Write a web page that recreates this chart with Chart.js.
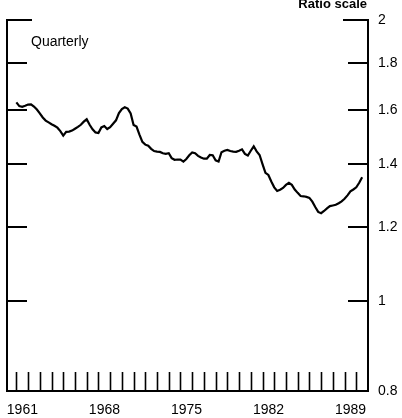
<!DOCTYPE html>
<html>
<head>
<meta charset="utf-8">
<script src="https://cdn.jsdelivr.net/npm/chart.js@4"></script>
<style>
  html, body { margin: 0; padding: 0; background: #fff; }
  canvas { display: block; }
</style>
</head>
<body>
<canvas id="ratioChart" width="402" height="418"></canvas>
<script>
const ink = '#000';
const fontFamily = '"Liberation Sans", Arial, Helvetica, sans-serif';

// quarterly observations, 1961:Q1 onward
const firstYear = 1961;
const ratio = [
    1.632, 1.617, 1.614, 1.618, 1.623, 1.624, 1.615, 1.603, 1.588, 1.572,
    1.560, 1.553, 1.546, 1.540, 1.533, 1.520, 1.503, 1.517, 1.518, 1.522,
    1.529, 1.536, 1.544, 1.556, 1.565, 1.544, 1.527, 1.515, 1.513, 1.534,
    1.539, 1.528, 1.535, 1.548, 1.561, 1.589, 1.605, 1.612, 1.607, 1.588,
    1.543, 1.537, 1.507, 1.480, 1.470, 1.466, 1.455, 1.447, 1.445, 1.444,
    1.439, 1.437, 1.439, 1.422, 1.416, 1.417, 1.417, 1.410, 1.419, 1.432,
    1.442, 1.439, 1.430, 1.424, 1.420, 1.420, 1.433, 1.432, 1.414, 1.410,
    1.443, 1.448, 1.451, 1.447, 1.445, 1.444, 1.448, 1.453, 1.437, 1.431,
    1.448, 1.464, 1.446, 1.433, 1.401, 1.371, 1.364, 1.342, 1.323, 1.311,
    1.315, 1.321, 1.331, 1.338, 1.331, 1.316, 1.305, 1.295, 1.294, 1.292,
    1.289, 1.277, 1.260, 1.245, 1.241, 1.248, 1.256, 1.263, 1.265, 1.267,
    1.272, 1.278, 1.286, 1.297, 1.310, 1.316, 1.323, 1.338, 1.356,
];

const yearTicks = [
    1961, 1962, 1963, 1964, 1965, 1966, 1967, 1968, 1969, 1970,
    1971, 1972, 1973, 1974, 1975, 1976, 1977, 1978, 1979, 1980,
    1981, 1982, 1983, 1984, 1985, 1986, 1987, 1988, 1989, 1990,
];
const yearLabels = [1961, 1968, 1975, 1982, 1989];
const ratioTicks = [0.8, 1, 1.2, 1.4, 1.6, 1.8, 2];

const points = ratio.map((v, i) => ({ x: firstYear + i / 4, y: v }));

// tick marks point inward from every axis, and the two captions
const innerTicks = {
    id: 'innerTicks',
    afterDraw(chart) {
        const { ctx, chartArea: area, scales } = chart;
        ctx.save();
        ctx.strokeStyle = ink;
        ctx.lineWidth = 1.6;
        ctx.beginPath();
        scales.x.ticks.forEach(t => {
            const x = Math.round(scales.x.getPixelForValue(t.value)) + 0.5;
            ctx.moveTo(x, area.bottom);
            ctx.lineTo(x, area.bottom - 19);
        });
        ctx.stroke();
        ctx.lineWidth = 2;
        ctx.beginPath();
        scales.y.ticks.forEach(t => {
            const y = Math.round(scales.y.getPixelForValue(t.value));
            // the top mark is drawn a little longer, as in the print
            const len = t.value === 2 ? 25 : 20;
            ctx.moveTo(area.left, y);
            ctx.lineTo(area.left + len, y);
            ctx.moveTo(area.right, y);
            ctx.lineTo(area.right - len, y);
        });
        ctx.stroke();

        ctx.fillStyle = ink;
        ctx.textAlign = 'left';
        ctx.textBaseline = 'alphabetic';
        ctx.font = `14px ${fontFamily}`;
        ctx.fillText('Quarterly', 31, 46);
        ctx.textAlign = 'right';
        ctx.font = `bold 13px ${fontFamily}`;
        ctx.fillText('Ratio scale', 367, 8);
        ctx.restore();
    },
};

const logAxis = {
    type: 'logarithmic',
    min: 0.8,
    max: 2,
    grid: { display: false, drawTicks: false },
    border: { display: true, color: ink, width: 2 },
    afterBuildTicks: scale => {
        scale.ticks = ratioTicks.map(v => ({ value: v }));
    },
};

new Chart(document.getElementById('ratioChart'), {
    type: 'line',
    data: {
        datasets: [{
            data: points,
            borderColor: ink,
            borderWidth: 2.2,
            pointRadius: 0,
            tension: 0,
            fill: false,
        }],
    },
    options: {
        responsive: false,
        animation: false,
        layout: { padding: { top: 20, left: 0, right: 0, bottom: 0 } },
        plugins: {
            legend: { display: false },
            tooltip: { enabled: false },
        },
        scales: {
            x: {
                type: 'linear',
                min: 1960.2,
                max: 1991,
                grid: { display: false, drawTicks: false },
                border: { display: true, color: ink, width: 2 },
                afterBuildTicks: scale => {
                    scale.ticks = yearTicks.map(v => ({ value: v }));
                },
                ticks: {
                    autoSkip: false,
                    maxRotation: 0,
                    padding: 11,
                    labelOffset: 6,
                    color: ink,
                    font: { family: fontFamily, size: 14 },
                    callback: value => (yearLabels.includes(value) ? String(value) : ''),
                },
                afterFit: scale => {
                    scale.height = 27;
                    scale.paddingLeft = 0;
                    scale.paddingRight = 0;
                },
            },
            y: {
                ...logAxis,
                position: 'left',
                ticks: { display: false },
                afterFit: scale => { scale.width = 7; },
            },
            y2: {
                ...logAxis,
                position: 'right',
                ticks: {
                    padding: 10,
                    color: ink,
                    font: { family: fontFamily, size: 14 },
                    callback: value => String(value),
                },
                afterFit: scale => {
                    scale.width = 34;
                    scale.paddingTop = 0;
                    scale.paddingBottom = 0;
                },
            },
        },
    },
    plugins: [innerTicks],
});
</script>
</body>
</html>
